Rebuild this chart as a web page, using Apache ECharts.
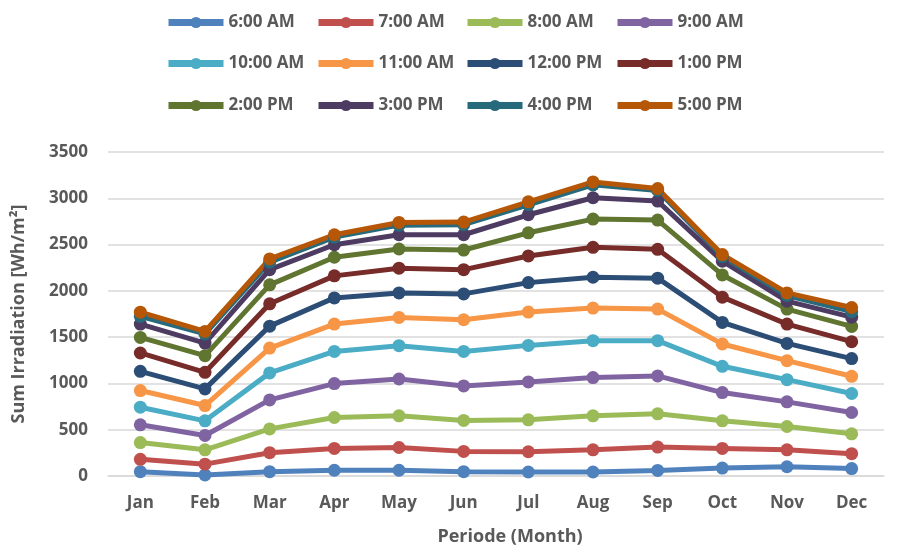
<!DOCTYPE html>
<html>
<head>
<meta charset="utf-8">
<script src="https://cdn.jsdelivr.net/npm/echarts@6/dist/echarts.min.js"></script>
<style>
  html, body { margin: 0; padding: 0; background: #fff; }
  #chart { width: 905px; height: 548px; }
</style>
</head>
<body>
<div id="chart"></div>
<script>
// months on the x axis
const months = ['Jan', 'Feb', 'Mar', 'Apr', 'May', 'Jun', 'Jul', 'Aug', 'Sep', 'Oct', 'Nov', 'Dec'];
const hours = ['6:00 AM', '7:00 AM', '8:00 AM', '9:00 AM', '10:00 AM', '11:00 AM',
  '12:00 PM', '1:00 PM', '2:00 PM', '3:00 PM', '4:00 PM', '5:00 PM'];

// cumulative irradiation per hour (Wh/m2)
const h06 = [47, 12, 47, 62, 62, 47, 43, 43, 60, 86, 100, 80];
const h07 = [180, 128, 252, 298, 308, 266, 262, 283, 312, 298, 283, 241];
const h08 = [361, 283, 509, 632, 650, 600, 607, 650, 672, 596, 535, 456];
const h09 = [553, 438, 822, 998, 1048, 973, 1016, 1063, 1081, 901, 801, 686];
const h10 = [743, 596, 1114, 1346, 1408, 1346, 1411, 1462, 1462, 1185, 1041, 891];
const h11 = [923, 761, 1382, 1641, 1713, 1688, 1771, 1814, 1803, 1426, 1246, 1077];
const h12 = [1131, 941, 1619, 1924, 1978, 1967, 2089, 2147, 2137, 1659, 1432, 1268];
const h13 = [1329, 1120, 1860, 2162, 2245, 2229, 2377, 2470, 2449, 1932, 1641, 1451];
const h14 = [1497, 1300, 2065, 2363, 2452, 2441, 2627, 2775, 2765, 2172, 1803, 1616];
const h15 = [1641, 1436, 2229, 2498, 2606, 2606, 2822, 3006, 2970, 2320, 1889, 1716];
const h16 = [1725, 1535, 2310, 2580, 2710, 2715, 2930, 3145, 3085, 2370, 1950, 1775];
const h17 = [1770, 1562, 2345, 2606, 2739, 2743, 2962, 3177, 3105, 2392, 1978, 1820];
const yTicks = [0, 500, 1000, 1500, 2000, 2500, 3000, 3500];

const values = [h06, h07, h08, h09, h10, h11, h12, h13, h14, h15, h16, h17];
const colors = ['#4F81BD', '#C0504D', '#9BBB59', '#8064A2', '#4BACC6', '#F79646',
  '#2C4D75', '#772C2A', '#5F7530', '#4D3B62', '#276A7C', '#B65708'];

const font = '"Open Sans", "Liberation Sans", sans-serif';
const grey = '#595959';

const chart = echarts.init(document.getElementById('chart'));

// one legend per entry so the 4 columns line up like the original
const legendTops = [9, 50, 92];
const legendLefts = [160, 310, 459, 609];
const legends = hours.map(function (h, i) {
  return {
    top: legendTops[Math.floor(i / 4)],
    left: legendLefts[i % 4],
    itemWidth: 55,
    itemHeight: 14,
    itemGap: 0,
    data: [h],
    lineStyle: { width: 7 },
    textStyle: {
      color: grey,
      fontFamily: font,
      fontWeight: 'bold',
      fontSize: 17
    }
  };
});

const option = {
  animation: false,
  color: colors,
  legend: legends,
  grid: {
    left: 108,
    right: 21,
    top: 152,
    bottom: 72,
    outerBoundsMode: 'none'
  },
  xAxis: {
    type: 'category',
    data: months,
    boundaryGap: true,
    name: 'Periode (Month)',
    nameLocation: 'middle',
    nameGap: 52,
    nameTextStyle: {
      color: grey, fontFamily: font, fontWeight: 'bold', fontSize: 18,
      padding: [0, 0, 0, 28]
    },
    axisLine: { show: true, lineStyle: { color: '#D9D9D9', width: 1.5 } },
    axisTick: { show: false },
    axisLabel: { color: grey, fontFamily: font, fontWeight: 'bold', fontSize: 17, margin: 19 }
  },
  yAxis: {
    type: 'value',
    min: yTicks[0],
    max: yTicks[yTicks.length - 1],
    interval: 500,
    name: 'Sum Irradiation [Wh/m²]',
    nameLocation: 'middle',
    nameGap: 80,
    nameTextStyle: { color: grey, fontFamily: font, fontWeight: 'bold', fontSize: 18 },
    axisLine: { show: false },
    axisTick: { show: false },
    axisLabel: {
      color: grey, fontFamily: font, fontWeight: 'bold', fontSize: 17, margin: 20,
      formatter: function (v) { return String(v); }
    },
    splitLine: { show: true, lineStyle: { color: '#D9D9D9', width: 1.5 } }
  },
  series: hours.map(function (h, i) {
    return {
      name: h,
      type: 'line',
      data: values[i],
      symbol: 'circle',
      symbolSize: 13,
      lineStyle: { width: 5, color: colors[i] },
      itemStyle: { color: colors[i] }
    };
  })
};

chart.setOption(option);
</script>
</body>
</html>
